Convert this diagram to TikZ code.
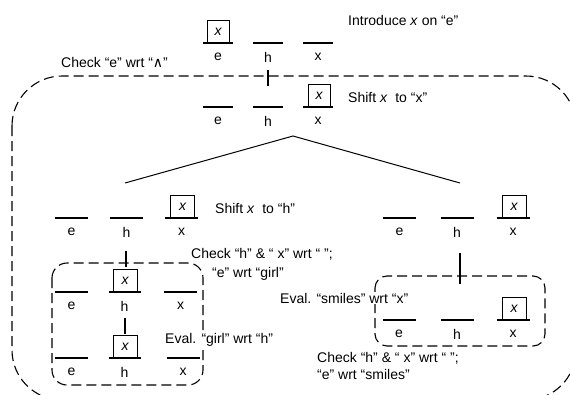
\documentclass[tikz,border=0pt]{standalone}
\usepackage{fontspec}
\setmainfont{Liberation Sans}
\newfontfamily\dvfont{DejaVu Sans}
\newcommand\slotbar[5]{% name, x center, y, half width, label
  \draw[barline] (#2-#4,#3) -- (#2+#4,#3);
  \node[lbl] (#1) at (#2,#3+14) {#5};
}
\begin{document}
\begin{tikzpicture}[x=1pt,y=-1pt,
  barline/.style={line width=1.8pt},
  lbl/.style={font=\fontsize{14}{16}\selectfont, inner sep=0pt},
  xbox/.style={draw, line width=0.6pt, minimum width=22pt, minimum height=22pt, inner sep=0pt, fill=white, font=\fontsize{14}{16}\selectfont\itshape},
  txt/.style={font=\fontsize{14}{16}\selectfont, inner sep=1pt, anchor=west},
  bigdash/.style={line width=1.1pt, dash pattern=on 10pt off 5pt},
  tick/.style={line width=1.1pt}]
\useasboundingbox (0,0) rectangle (570,394);
% big dashed region
\draw[bigdash, rounded corners=50pt] (12,76) rectangle (576,400);
% top row
\slotbar{t1}{218}{43}{15}{e}
\slotbar{t2}{268}{43}{15}{h}
\slotbar{t3}{318}{43}{15}{x}
\node[xbox, anchor=south] (tb) at (218,43) {x};
\node[txt] (intro) at (347,20) {Introduce \textit{x} on “e”};
\node[txt] (chk1) at (60,62) {Check “e” wrt “{\dvfont ∧}”};
\coordinate (k1a) at (268,70);
\coordinate (k1b) at (268,86);
\draw[tick] (k1a) -- (k1b);
% second row
\slotbar{s1}{218}{107}{15}{e}
\slotbar{s2}{268}{107}{15}{h}
\slotbar{s3}{318}{107}{15}{x}
\node[xbox, anchor=south] (sb) at (319,107) {x};
\node[txt] (shift1) at (347,97) {Shift \textit{x}\ \ to “x”};
% branching
\coordinate (apex) at (293,136);
\coordinate (bl) at (125,183);
\coordinate (br) at (460,183);
\draw[line width=1pt] (bl) -- (apex) -- (br);
% third row left
\slotbar{l1}{71.5}{218}{16.5}{e}
\slotbar{l2}{126.5}{218}{16.5}{h}
\slotbar{l3}{181.5}{218}{16.5}{x}
\node[xbox, anchor=south, minimum width=24pt] (lb) at (182.5,218) {x};
\node[txt] (shift2) at (214,208) {Shift \textit{x}\ \ to “h”};
% third row right
\slotbar{r1}{399.5}{218}{16.5}{e}
\slotbar{r2}{457}{218}{16.5}{h}
\slotbar{r3}{513}{218}{16.5}{x}
\node[xbox, anchor=south, minimum width=24pt] (rb) at (514,218) {x};
% left tick into left box
\coordinate (k2a) at (126,251);
\coordinate (k2b) at (126,267);
\draw[tick] (k2a) -- (k2b);
\node[txt] (chk2) at (190,254) {Check “h” \& “ x” wrt “ ”;};
\node[txt] (chk2b) at (211,274) {“e” wrt “girl”};
% left dashed box
\draw[bigdash, rounded corners=15pt] (52,263) rectangle (203,385);
\slotbar{a1}{71.5}{292}{16.5}{e}
\slotbar{a2}{124.5}{292}{16}{h}
\slotbar{a3}{180.5}{292}{16.5}{x}
\node[xbox, anchor=south, minimum width=24pt] (ab) at (125,292) {x};
\coordinate (k3a) at (125,318);
\coordinate (k3b) at (125,334);
\draw[tick] (k3a) -- (k3b);
\slotbar{b1}{71.5}{358}{16.5}{e}
\slotbar{b2}{124.5}{358}{16}{h}
\slotbar{b3}{183}{358}{16.5}{x}
\node[xbox, anchor=south, minimum width=24pt] (bb) at (125,358) {x};
\node[txt, fill=white] (eval1) at (164,340) {Eval. “girl” wrt “h”};
% right dashed box
\draw[bigdash, rounded corners=12pt] (375,276) rectangle (545,346);
\coordinate (k4a) at (460,253);
\coordinate (k4b) at (460,284);
\draw[tick] (k4a) -- (k4b);
\slotbar{c1}{399}{320}{16.5}{e}
\slotbar{c2}{457}{320}{16.5}{h}
\slotbar{c3}{513}{320}{16.5}{x}
\node[xbox, anchor=south, minimum width=24pt] (cb) at (514,320) {x};
\node[txt, fill=white] (eval2) at (279,298) {Eval. “smiles” wrt “x”};
\node[txt] (chk3) at (316,358) {Check “h” \& “ x” wrt “ ”;};
\node[txt] (chk3b) at (316,374) {“e” wrt “smiles”};
\end{tikzpicture}
\end{document}
